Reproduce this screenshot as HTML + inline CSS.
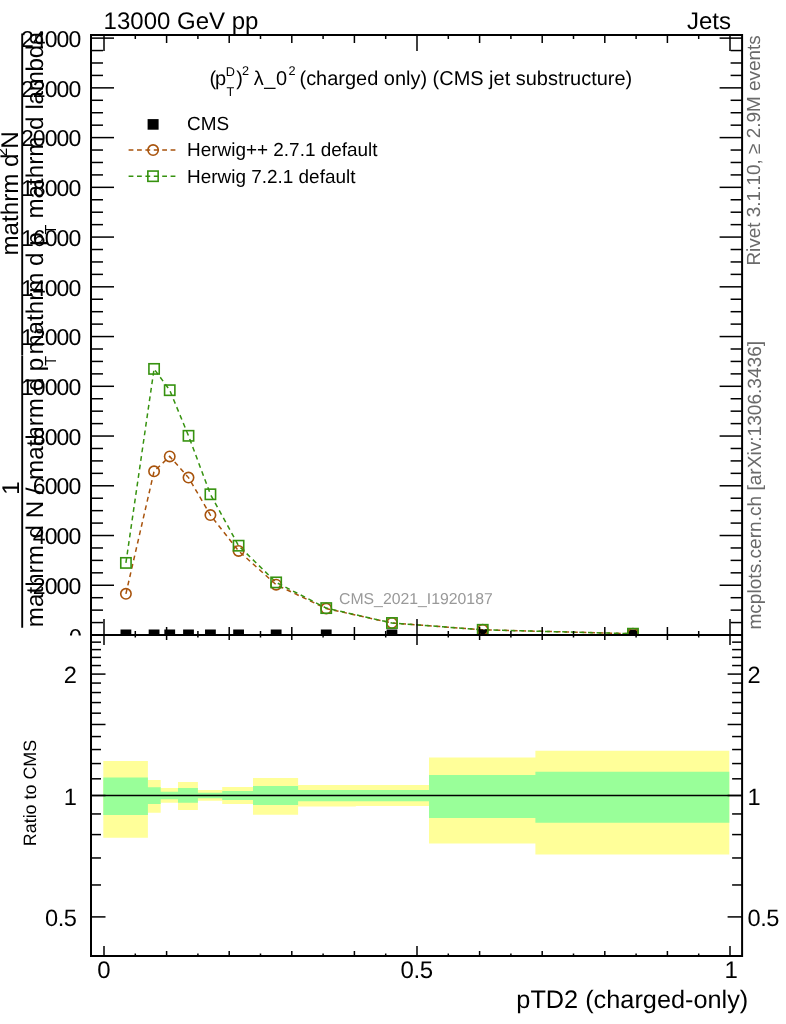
<!DOCTYPE html>
<html lang="en">
<head>
<meta charset="utf-8">
<title>pTD2 (charged-only) - CMS jet substructure</title>
<style>
html,body{margin:0;padding:0;background:#fff;}
body{width:786px;height:1024px;overflow:hidden;font-family:"Liberation Sans", sans-serif;}
svg{display:block;will-change:transform;}
</style>
</head>
<body>
<svg width="786" height="1024" viewBox="0 0 786 1024" font-family='"Liberation Sans", sans-serif' text-rendering="geometricPrecision">
<polygon points="103.30,761.00 147.90,761.00 147.90,780.00 160.70,780.00 160.70,788.00 178.00,788.00 178.00,782.10 197.90,782.10 197.90,790.00 222.20,790.00 222.20,787.10 253.00,787.10 253.00,778.00 298.10,778.00 298.10,785.10 355.80,785.10 355.80,785.10 429.00,785.10 429.00,757.50 535.40,757.50 535.40,750.70 729.30,750.70 729.30,854.60 535.40,854.60 535.40,843.50 429.00,843.50 429.00,806.00 355.80,806.00 355.80,806.40 298.10,806.40 298.10,814.70 253.00,814.70 253.00,803.90 222.20,803.90 222.20,800.70 197.90,800.70 197.90,810.10 178.00,810.10 178.00,802.80 160.70,802.80 160.70,812.70 147.90,812.70 147.90,837.70 103.30,837.70" fill="#ffff99"/>
<polygon points="103.30,777.40 147.90,777.40 147.90,787.20 160.70,787.20 160.70,791.70 178.00,791.70 178.00,788.10 197.90,788.10 197.90,792.70 222.20,792.70 222.20,791.10 253.00,791.10 253.00,786.00 298.10,786.00 298.10,790.10 355.80,790.10 355.80,790.10 429.00,790.10 429.00,774.90 535.40,774.90 535.40,771.70 729.30,771.70 729.30,822.70 535.40,822.70 535.40,818.00 429.00,818.00 429.00,801.20 355.80,801.20 355.80,801.20 298.10,801.20 298.10,804.90 253.00,804.90 253.00,799.90 222.20,799.90 222.20,798.20 197.90,798.20 197.90,802.80 178.00,802.80 178.00,799.20 160.70,799.20 160.70,803.90 147.90,803.90 147.90,814.90 103.30,814.90" fill="#99ff99"/>
<line x1="91.00" y1="795.40" x2="742.10" y2="795.40" stroke="#000" stroke-width="1.5" />
<clipPath id="cu"><rect x="0" y="0" width="786" height="635"/></clipPath>
<g clip-path="url(#cu)">
<polyline points="125.91,593.80 154.08,471.30 169.73,456.40 188.51,477.60 210.42,515.10 238.59,550.90 276.15,584.70 326.23,608.60 391.96,623.00 482.73,629.80 632.97,633.70" fill="none" stroke="#a8530c" stroke-width="1.5" stroke-dasharray="4.8 3.8"/>
<polyline points="125.91,562.90 154.08,368.90 169.73,390.20 188.51,435.80 210.42,494.30 238.59,545.70 276.15,582.40 326.23,608.10 391.96,623.00 482.73,629.80 632.97,633.70" fill="none" stroke="#36920f" stroke-width="1.5" stroke-dasharray="4.8 3.8"/>
<rect x="120.51" y="629.50" width="10.8" height="10.8" fill="#000"/>
<rect x="148.68" y="629.50" width="10.8" height="10.8" fill="#000"/>
<rect x="164.33" y="629.50" width="10.8" height="10.8" fill="#000"/>
<rect x="183.11" y="629.50" width="10.8" height="10.8" fill="#000"/>
<rect x="205.02" y="629.50" width="10.8" height="10.8" fill="#000"/>
<rect x="233.19" y="629.50" width="10.8" height="10.8" fill="#000"/>
<rect x="270.75" y="629.50" width="10.8" height="10.8" fill="#000"/>
<rect x="320.83" y="629.50" width="10.8" height="10.8" fill="#000"/>
<rect x="386.56" y="629.50" width="10.8" height="10.8" fill="#000"/>
<rect x="477.33" y="629.50" width="10.8" height="10.8" fill="#000"/>
<rect x="627.57" y="629.50" width="10.8" height="10.8" fill="#000"/>
<circle cx="125.91" cy="593.80" r="5.2" fill="none" stroke="#a8530c" stroke-width="1.6"/>
<circle cx="154.08" cy="471.30" r="5.2" fill="none" stroke="#a8530c" stroke-width="1.6"/>
<circle cx="169.73" cy="456.40" r="5.2" fill="none" stroke="#a8530c" stroke-width="1.6"/>
<circle cx="188.51" cy="477.60" r="5.2" fill="none" stroke="#a8530c" stroke-width="1.6"/>
<circle cx="210.42" cy="515.10" r="5.2" fill="none" stroke="#a8530c" stroke-width="1.6"/>
<circle cx="238.59" cy="550.90" r="5.2" fill="none" stroke="#a8530c" stroke-width="1.6"/>
<circle cx="276.15" cy="584.70" r="5.2" fill="none" stroke="#a8530c" stroke-width="1.6"/>
<circle cx="326.23" cy="608.60" r="5.2" fill="none" stroke="#a8530c" stroke-width="1.6"/>
<circle cx="391.96" cy="623.00" r="5.2" fill="none" stroke="#a8530c" stroke-width="1.6"/>
<circle cx="482.73" cy="629.80" r="5.2" fill="none" stroke="#a8530c" stroke-width="1.6"/>
<circle cx="632.97" cy="633.70" r="5.2" fill="none" stroke="#a8530c" stroke-width="1.6"/>
<rect x="120.76" y="557.75" width="10.3" height="10.3" fill="none" stroke="#36920f" stroke-width="1.6"/>
<rect x="148.93" y="363.75" width="10.3" height="10.3" fill="none" stroke="#36920f" stroke-width="1.6"/>
<rect x="164.58" y="385.05" width="10.3" height="10.3" fill="none" stroke="#36920f" stroke-width="1.6"/>
<rect x="183.36" y="430.65" width="10.3" height="10.3" fill="none" stroke="#36920f" stroke-width="1.6"/>
<rect x="205.27" y="489.15" width="10.3" height="10.3" fill="none" stroke="#36920f" stroke-width="1.6"/>
<rect x="233.44" y="540.55" width="10.3" height="10.3" fill="none" stroke="#36920f" stroke-width="1.6"/>
<rect x="271.00" y="577.25" width="10.3" height="10.3" fill="none" stroke="#36920f" stroke-width="1.6"/>
<rect x="321.08" y="602.95" width="10.3" height="10.3" fill="none" stroke="#36920f" stroke-width="1.6"/>
<rect x="386.81" y="617.85" width="10.3" height="10.3" fill="none" stroke="#36920f" stroke-width="1.6"/>
<rect x="477.58" y="624.65" width="10.3" height="10.3" fill="none" stroke="#36920f" stroke-width="1.6"/>
<rect x="627.82" y="628.55" width="10.3" height="10.3" fill="none" stroke="#36920f" stroke-width="1.6"/>
</g>
<rect x="91.0" y="35.0" width="651.1" height="921.0" fill="none" stroke="#000" stroke-width="2.0"/>
<line x1="91.00" y1="635.00" x2="742.10" y2="635.00" stroke="#000" stroke-width="2.0" />
<line x1="104.00" y1="35.00" x2="104.00" y2="51.00" stroke="#000" stroke-width="1.5" />
<line x1="104.00" y1="619.00" x2="104.00" y2="645.00" stroke="#000" stroke-width="1.5" />
<line x1="104.00" y1="956.00" x2="104.00" y2="946.00" stroke="#000" stroke-width="1.5" />
<line x1="135.30" y1="35.00" x2="135.30" y2="39.00" stroke="#000" stroke-width="1.5" />
<line x1="135.30" y1="631.00" x2="135.30" y2="637.50" stroke="#000" stroke-width="1.5" />
<line x1="135.30" y1="956.00" x2="135.30" y2="953.50" stroke="#000" stroke-width="1.5" />
<line x1="166.60" y1="35.00" x2="166.60" y2="43.00" stroke="#000" stroke-width="1.5" />
<line x1="166.60" y1="627.00" x2="166.60" y2="640.00" stroke="#000" stroke-width="1.5" />
<line x1="166.60" y1="956.00" x2="166.60" y2="951.00" stroke="#000" stroke-width="1.5" />
<line x1="197.90" y1="35.00" x2="197.90" y2="39.00" stroke="#000" stroke-width="1.5" />
<line x1="197.90" y1="631.00" x2="197.90" y2="637.50" stroke="#000" stroke-width="1.5" />
<line x1="197.90" y1="956.00" x2="197.90" y2="953.50" stroke="#000" stroke-width="1.5" />
<line x1="229.20" y1="35.00" x2="229.20" y2="43.00" stroke="#000" stroke-width="1.5" />
<line x1="229.20" y1="627.00" x2="229.20" y2="640.00" stroke="#000" stroke-width="1.5" />
<line x1="229.20" y1="956.00" x2="229.20" y2="951.00" stroke="#000" stroke-width="1.5" />
<line x1="260.50" y1="35.00" x2="260.50" y2="39.00" stroke="#000" stroke-width="1.5" />
<line x1="260.50" y1="631.00" x2="260.50" y2="637.50" stroke="#000" stroke-width="1.5" />
<line x1="260.50" y1="956.00" x2="260.50" y2="953.50" stroke="#000" stroke-width="1.5" />
<line x1="291.80" y1="35.00" x2="291.80" y2="43.00" stroke="#000" stroke-width="1.5" />
<line x1="291.80" y1="627.00" x2="291.80" y2="640.00" stroke="#000" stroke-width="1.5" />
<line x1="291.80" y1="956.00" x2="291.80" y2="951.00" stroke="#000" stroke-width="1.5" />
<line x1="323.10" y1="35.00" x2="323.10" y2="39.00" stroke="#000" stroke-width="1.5" />
<line x1="323.10" y1="631.00" x2="323.10" y2="637.50" stroke="#000" stroke-width="1.5" />
<line x1="323.10" y1="956.00" x2="323.10" y2="953.50" stroke="#000" stroke-width="1.5" />
<line x1="354.40" y1="35.00" x2="354.40" y2="43.00" stroke="#000" stroke-width="1.5" />
<line x1="354.40" y1="627.00" x2="354.40" y2="640.00" stroke="#000" stroke-width="1.5" />
<line x1="354.40" y1="956.00" x2="354.40" y2="951.00" stroke="#000" stroke-width="1.5" />
<line x1="385.70" y1="35.00" x2="385.70" y2="39.00" stroke="#000" stroke-width="1.5" />
<line x1="385.70" y1="631.00" x2="385.70" y2="637.50" stroke="#000" stroke-width="1.5" />
<line x1="385.70" y1="956.00" x2="385.70" y2="953.50" stroke="#000" stroke-width="1.5" />
<line x1="417.00" y1="35.00" x2="417.00" y2="51.00" stroke="#000" stroke-width="1.5" />
<line x1="417.00" y1="619.00" x2="417.00" y2="645.00" stroke="#000" stroke-width="1.5" />
<line x1="417.00" y1="956.00" x2="417.00" y2="946.00" stroke="#000" stroke-width="1.5" />
<line x1="448.30" y1="35.00" x2="448.30" y2="39.00" stroke="#000" stroke-width="1.5" />
<line x1="448.30" y1="631.00" x2="448.30" y2="637.50" stroke="#000" stroke-width="1.5" />
<line x1="448.30" y1="956.00" x2="448.30" y2="953.50" stroke="#000" stroke-width="1.5" />
<line x1="479.60" y1="35.00" x2="479.60" y2="43.00" stroke="#000" stroke-width="1.5" />
<line x1="479.60" y1="627.00" x2="479.60" y2="640.00" stroke="#000" stroke-width="1.5" />
<line x1="479.60" y1="956.00" x2="479.60" y2="951.00" stroke="#000" stroke-width="1.5" />
<line x1="510.90" y1="35.00" x2="510.90" y2="39.00" stroke="#000" stroke-width="1.5" />
<line x1="510.90" y1="631.00" x2="510.90" y2="637.50" stroke="#000" stroke-width="1.5" />
<line x1="510.90" y1="956.00" x2="510.90" y2="953.50" stroke="#000" stroke-width="1.5" />
<line x1="542.20" y1="35.00" x2="542.20" y2="43.00" stroke="#000" stroke-width="1.5" />
<line x1="542.20" y1="627.00" x2="542.20" y2="640.00" stroke="#000" stroke-width="1.5" />
<line x1="542.20" y1="956.00" x2="542.20" y2="951.00" stroke="#000" stroke-width="1.5" />
<line x1="573.50" y1="35.00" x2="573.50" y2="39.00" stroke="#000" stroke-width="1.5" />
<line x1="573.50" y1="631.00" x2="573.50" y2="637.50" stroke="#000" stroke-width="1.5" />
<line x1="573.50" y1="956.00" x2="573.50" y2="953.50" stroke="#000" stroke-width="1.5" />
<line x1="604.80" y1="35.00" x2="604.80" y2="43.00" stroke="#000" stroke-width="1.5" />
<line x1="604.80" y1="627.00" x2="604.80" y2="640.00" stroke="#000" stroke-width="1.5" />
<line x1="604.80" y1="956.00" x2="604.80" y2="951.00" stroke="#000" stroke-width="1.5" />
<line x1="636.10" y1="35.00" x2="636.10" y2="39.00" stroke="#000" stroke-width="1.5" />
<line x1="636.10" y1="631.00" x2="636.10" y2="637.50" stroke="#000" stroke-width="1.5" />
<line x1="636.10" y1="956.00" x2="636.10" y2="953.50" stroke="#000" stroke-width="1.5" />
<line x1="667.40" y1="35.00" x2="667.40" y2="43.00" stroke="#000" stroke-width="1.5" />
<line x1="667.40" y1="627.00" x2="667.40" y2="640.00" stroke="#000" stroke-width="1.5" />
<line x1="667.40" y1="956.00" x2="667.40" y2="951.00" stroke="#000" stroke-width="1.5" />
<line x1="698.70" y1="35.00" x2="698.70" y2="39.00" stroke="#000" stroke-width="1.5" />
<line x1="698.70" y1="631.00" x2="698.70" y2="637.50" stroke="#000" stroke-width="1.5" />
<line x1="698.70" y1="956.00" x2="698.70" y2="953.50" stroke="#000" stroke-width="1.5" />
<line x1="730.00" y1="35.00" x2="730.00" y2="51.00" stroke="#000" stroke-width="1.5" />
<line x1="730.00" y1="619.00" x2="730.00" y2="645.00" stroke="#000" stroke-width="1.5" />
<line x1="730.00" y1="956.00" x2="730.00" y2="946.00" stroke="#000" stroke-width="1.5" />
<line x1="91.00" y1="635.00" x2="114.00" y2="635.00" stroke="#000" stroke-width="1.5" />
<line x1="742.10" y1="635.00" x2="719.60" y2="635.00" stroke="#000" stroke-width="1.5" />
<line x1="91.00" y1="622.57" x2="103.00" y2="622.57" stroke="#000" stroke-width="1.5" />
<line x1="742.10" y1="622.57" x2="730.60" y2="622.57" stroke="#000" stroke-width="1.5" />
<line x1="91.00" y1="610.13" x2="103.00" y2="610.13" stroke="#000" stroke-width="1.5" />
<line x1="742.10" y1="610.13" x2="730.60" y2="610.13" stroke="#000" stroke-width="1.5" />
<line x1="91.00" y1="597.70" x2="103.00" y2="597.70" stroke="#000" stroke-width="1.5" />
<line x1="742.10" y1="597.70" x2="730.60" y2="597.70" stroke="#000" stroke-width="1.5" />
<line x1="91.00" y1="585.26" x2="114.00" y2="585.26" stroke="#000" stroke-width="1.5" />
<line x1="742.10" y1="585.26" x2="719.60" y2="585.26" stroke="#000" stroke-width="1.5" />
<line x1="91.00" y1="572.83" x2="103.00" y2="572.83" stroke="#000" stroke-width="1.5" />
<line x1="742.10" y1="572.83" x2="730.60" y2="572.83" stroke="#000" stroke-width="1.5" />
<line x1="91.00" y1="560.39" x2="103.00" y2="560.39" stroke="#000" stroke-width="1.5" />
<line x1="742.10" y1="560.39" x2="730.60" y2="560.39" stroke="#000" stroke-width="1.5" />
<line x1="91.00" y1="547.96" x2="103.00" y2="547.96" stroke="#000" stroke-width="1.5" />
<line x1="742.10" y1="547.96" x2="730.60" y2="547.96" stroke="#000" stroke-width="1.5" />
<line x1="91.00" y1="535.52" x2="114.00" y2="535.52" stroke="#000" stroke-width="1.5" />
<line x1="742.10" y1="535.52" x2="719.60" y2="535.52" stroke="#000" stroke-width="1.5" />
<line x1="91.00" y1="523.09" x2="103.00" y2="523.09" stroke="#000" stroke-width="1.5" />
<line x1="742.10" y1="523.09" x2="730.60" y2="523.09" stroke="#000" stroke-width="1.5" />
<line x1="91.00" y1="510.65" x2="103.00" y2="510.65" stroke="#000" stroke-width="1.5" />
<line x1="742.10" y1="510.65" x2="730.60" y2="510.65" stroke="#000" stroke-width="1.5" />
<line x1="91.00" y1="498.22" x2="103.00" y2="498.22" stroke="#000" stroke-width="1.5" />
<line x1="742.10" y1="498.22" x2="730.60" y2="498.22" stroke="#000" stroke-width="1.5" />
<line x1="91.00" y1="485.78" x2="114.00" y2="485.78" stroke="#000" stroke-width="1.5" />
<line x1="742.10" y1="485.78" x2="719.60" y2="485.78" stroke="#000" stroke-width="1.5" />
<line x1="91.00" y1="473.35" x2="103.00" y2="473.35" stroke="#000" stroke-width="1.5" />
<line x1="742.10" y1="473.35" x2="730.60" y2="473.35" stroke="#000" stroke-width="1.5" />
<line x1="91.00" y1="460.91" x2="103.00" y2="460.91" stroke="#000" stroke-width="1.5" />
<line x1="742.10" y1="460.91" x2="730.60" y2="460.91" stroke="#000" stroke-width="1.5" />
<line x1="91.00" y1="448.48" x2="103.00" y2="448.48" stroke="#000" stroke-width="1.5" />
<line x1="742.10" y1="448.48" x2="730.60" y2="448.48" stroke="#000" stroke-width="1.5" />
<line x1="91.00" y1="436.04" x2="114.00" y2="436.04" stroke="#000" stroke-width="1.5" />
<line x1="742.10" y1="436.04" x2="719.60" y2="436.04" stroke="#000" stroke-width="1.5" />
<line x1="91.00" y1="423.61" x2="103.00" y2="423.61" stroke="#000" stroke-width="1.5" />
<line x1="742.10" y1="423.61" x2="730.60" y2="423.61" stroke="#000" stroke-width="1.5" />
<line x1="91.00" y1="411.17" x2="103.00" y2="411.17" stroke="#000" stroke-width="1.5" />
<line x1="742.10" y1="411.17" x2="730.60" y2="411.17" stroke="#000" stroke-width="1.5" />
<line x1="91.00" y1="398.74" x2="103.00" y2="398.74" stroke="#000" stroke-width="1.5" />
<line x1="742.10" y1="398.74" x2="730.60" y2="398.74" stroke="#000" stroke-width="1.5" />
<line x1="91.00" y1="386.30" x2="114.00" y2="386.30" stroke="#000" stroke-width="1.5" />
<line x1="742.10" y1="386.30" x2="719.60" y2="386.30" stroke="#000" stroke-width="1.5" />
<line x1="91.00" y1="373.87" x2="103.00" y2="373.87" stroke="#000" stroke-width="1.5" />
<line x1="742.10" y1="373.87" x2="730.60" y2="373.87" stroke="#000" stroke-width="1.5" />
<line x1="91.00" y1="361.43" x2="103.00" y2="361.43" stroke="#000" stroke-width="1.5" />
<line x1="742.10" y1="361.43" x2="730.60" y2="361.43" stroke="#000" stroke-width="1.5" />
<line x1="91.00" y1="349.00" x2="103.00" y2="349.00" stroke="#000" stroke-width="1.5" />
<line x1="742.10" y1="349.00" x2="730.60" y2="349.00" stroke="#000" stroke-width="1.5" />
<line x1="91.00" y1="336.56" x2="114.00" y2="336.56" stroke="#000" stroke-width="1.5" />
<line x1="742.10" y1="336.56" x2="719.60" y2="336.56" stroke="#000" stroke-width="1.5" />
<line x1="91.00" y1="324.12" x2="103.00" y2="324.12" stroke="#000" stroke-width="1.5" />
<line x1="742.10" y1="324.12" x2="730.60" y2="324.12" stroke="#000" stroke-width="1.5" />
<line x1="91.00" y1="311.69" x2="103.00" y2="311.69" stroke="#000" stroke-width="1.5" />
<line x1="742.10" y1="311.69" x2="730.60" y2="311.69" stroke="#000" stroke-width="1.5" />
<line x1="91.00" y1="299.25" x2="103.00" y2="299.25" stroke="#000" stroke-width="1.5" />
<line x1="742.10" y1="299.25" x2="730.60" y2="299.25" stroke="#000" stroke-width="1.5" />
<line x1="91.00" y1="286.82" x2="114.00" y2="286.82" stroke="#000" stroke-width="1.5" />
<line x1="742.10" y1="286.82" x2="719.60" y2="286.82" stroke="#000" stroke-width="1.5" />
<line x1="91.00" y1="274.38" x2="103.00" y2="274.38" stroke="#000" stroke-width="1.5" />
<line x1="742.10" y1="274.38" x2="730.60" y2="274.38" stroke="#000" stroke-width="1.5" />
<line x1="91.00" y1="261.95" x2="103.00" y2="261.95" stroke="#000" stroke-width="1.5" />
<line x1="742.10" y1="261.95" x2="730.60" y2="261.95" stroke="#000" stroke-width="1.5" />
<line x1="91.00" y1="249.51" x2="103.00" y2="249.51" stroke="#000" stroke-width="1.5" />
<line x1="742.10" y1="249.51" x2="730.60" y2="249.51" stroke="#000" stroke-width="1.5" />
<line x1="91.00" y1="237.08" x2="114.00" y2="237.08" stroke="#000" stroke-width="1.5" />
<line x1="742.10" y1="237.08" x2="719.60" y2="237.08" stroke="#000" stroke-width="1.5" />
<line x1="91.00" y1="224.64" x2="103.00" y2="224.64" stroke="#000" stroke-width="1.5" />
<line x1="742.10" y1="224.64" x2="730.60" y2="224.64" stroke="#000" stroke-width="1.5" />
<line x1="91.00" y1="212.21" x2="103.00" y2="212.21" stroke="#000" stroke-width="1.5" />
<line x1="742.10" y1="212.21" x2="730.60" y2="212.21" stroke="#000" stroke-width="1.5" />
<line x1="91.00" y1="199.77" x2="103.00" y2="199.77" stroke="#000" stroke-width="1.5" />
<line x1="742.10" y1="199.77" x2="730.60" y2="199.77" stroke="#000" stroke-width="1.5" />
<line x1="91.00" y1="187.34" x2="114.00" y2="187.34" stroke="#000" stroke-width="1.5" />
<line x1="742.10" y1="187.34" x2="719.60" y2="187.34" stroke="#000" stroke-width="1.5" />
<line x1="91.00" y1="174.91" x2="103.00" y2="174.91" stroke="#000" stroke-width="1.5" />
<line x1="742.10" y1="174.91" x2="730.60" y2="174.91" stroke="#000" stroke-width="1.5" />
<line x1="91.00" y1="162.47" x2="103.00" y2="162.47" stroke="#000" stroke-width="1.5" />
<line x1="742.10" y1="162.47" x2="730.60" y2="162.47" stroke="#000" stroke-width="1.5" />
<line x1="91.00" y1="150.04" x2="103.00" y2="150.04" stroke="#000" stroke-width="1.5" />
<line x1="742.10" y1="150.04" x2="730.60" y2="150.04" stroke="#000" stroke-width="1.5" />
<line x1="91.00" y1="137.60" x2="114.00" y2="137.60" stroke="#000" stroke-width="1.5" />
<line x1="742.10" y1="137.60" x2="719.60" y2="137.60" stroke="#000" stroke-width="1.5" />
<line x1="91.00" y1="125.17" x2="103.00" y2="125.17" stroke="#000" stroke-width="1.5" />
<line x1="742.10" y1="125.17" x2="730.60" y2="125.17" stroke="#000" stroke-width="1.5" />
<line x1="91.00" y1="112.73" x2="103.00" y2="112.73" stroke="#000" stroke-width="1.5" />
<line x1="742.10" y1="112.73" x2="730.60" y2="112.73" stroke="#000" stroke-width="1.5" />
<line x1="91.00" y1="100.29" x2="103.00" y2="100.29" stroke="#000" stroke-width="1.5" />
<line x1="742.10" y1="100.29" x2="730.60" y2="100.29" stroke="#000" stroke-width="1.5" />
<line x1="91.00" y1="87.86" x2="114.00" y2="87.86" stroke="#000" stroke-width="1.5" />
<line x1="742.10" y1="87.86" x2="719.60" y2="87.86" stroke="#000" stroke-width="1.5" />
<line x1="91.00" y1="75.42" x2="103.00" y2="75.42" stroke="#000" stroke-width="1.5" />
<line x1="742.10" y1="75.42" x2="730.60" y2="75.42" stroke="#000" stroke-width="1.5" />
<line x1="91.00" y1="62.99" x2="103.00" y2="62.99" stroke="#000" stroke-width="1.5" />
<line x1="742.10" y1="62.99" x2="730.60" y2="62.99" stroke="#000" stroke-width="1.5" />
<line x1="91.00" y1="50.55" x2="103.00" y2="50.55" stroke="#000" stroke-width="1.5" />
<line x1="742.10" y1="50.55" x2="730.60" y2="50.55" stroke="#000" stroke-width="1.5" />
<line x1="91.00" y1="38.12" x2="114.00" y2="38.12" stroke="#000" stroke-width="1.5" />
<line x1="742.10" y1="38.12" x2="719.60" y2="38.12" stroke="#000" stroke-width="1.5" />
<line x1="91.00" y1="916.91" x2="105.50" y2="916.91" stroke="#000" stroke-width="1.5" />
<line x1="742.10" y1="916.91" x2="727.60" y2="916.91" stroke="#000" stroke-width="1.5" />
<line x1="91.00" y1="884.97" x2="101.00" y2="884.97" stroke="#000" stroke-width="1.5" />
<line x1="742.10" y1="884.97" x2="732.10" y2="884.97" stroke="#000" stroke-width="1.5" />
<line x1="91.00" y1="857.97" x2="101.00" y2="857.97" stroke="#000" stroke-width="1.5" />
<line x1="742.10" y1="857.97" x2="732.10" y2="857.97" stroke="#000" stroke-width="1.5" />
<line x1="91.00" y1="834.59" x2="101.00" y2="834.59" stroke="#000" stroke-width="1.5" />
<line x1="742.10" y1="834.59" x2="732.10" y2="834.59" stroke="#000" stroke-width="1.5" />
<line x1="91.00" y1="813.95" x2="101.00" y2="813.95" stroke="#000" stroke-width="1.5" />
<line x1="742.10" y1="813.95" x2="732.10" y2="813.95" stroke="#000" stroke-width="1.5" />
<line x1="91.00" y1="795.50" x2="105.50" y2="795.50" stroke="#000" stroke-width="1.5" />
<line x1="742.10" y1="795.50" x2="727.60" y2="795.50" stroke="#000" stroke-width="1.5" />
<line x1="91.00" y1="778.81" x2="101.00" y2="778.81" stroke="#000" stroke-width="1.5" />
<line x1="742.10" y1="778.81" x2="732.10" y2="778.81" stroke="#000" stroke-width="1.5" />
<line x1="91.00" y1="763.56" x2="101.00" y2="763.56" stroke="#000" stroke-width="1.5" />
<line x1="742.10" y1="763.56" x2="732.10" y2="763.56" stroke="#000" stroke-width="1.5" />
<line x1="91.00" y1="749.54" x2="101.00" y2="749.54" stroke="#000" stroke-width="1.5" />
<line x1="742.10" y1="749.54" x2="732.10" y2="749.54" stroke="#000" stroke-width="1.5" />
<line x1="91.00" y1="736.56" x2="101.00" y2="736.56" stroke="#000" stroke-width="1.5" />
<line x1="742.10" y1="736.56" x2="732.10" y2="736.56" stroke="#000" stroke-width="1.5" />
<line x1="91.00" y1="724.48" x2="105.50" y2="724.48" stroke="#000" stroke-width="1.5" />
<line x1="742.10" y1="724.48" x2="727.60" y2="724.48" stroke="#000" stroke-width="1.5" />
<line x1="91.00" y1="713.18" x2="101.00" y2="713.18" stroke="#000" stroke-width="1.5" />
<line x1="742.10" y1="713.18" x2="732.10" y2="713.18" stroke="#000" stroke-width="1.5" />
<line x1="91.00" y1="702.56" x2="101.00" y2="702.56" stroke="#000" stroke-width="1.5" />
<line x1="742.10" y1="702.56" x2="732.10" y2="702.56" stroke="#000" stroke-width="1.5" />
<line x1="91.00" y1="692.54" x2="101.00" y2="692.54" stroke="#000" stroke-width="1.5" />
<line x1="742.10" y1="692.54" x2="732.10" y2="692.54" stroke="#000" stroke-width="1.5" />
<line x1="91.00" y1="683.07" x2="101.00" y2="683.07" stroke="#000" stroke-width="1.5" />
<line x1="742.10" y1="683.07" x2="732.10" y2="683.07" stroke="#000" stroke-width="1.5" />
<line x1="91.00" y1="674.09" x2="105.50" y2="674.09" stroke="#000" stroke-width="1.5" />
<line x1="742.10" y1="674.09" x2="727.60" y2="674.09" stroke="#000" stroke-width="1.5" />
<line x1="91.00" y1="665.54" x2="101.00" y2="665.54" stroke="#000" stroke-width="1.5" />
<line x1="742.10" y1="665.54" x2="732.10" y2="665.54" stroke="#000" stroke-width="1.5" />
<line x1="91.00" y1="657.40" x2="101.00" y2="657.40" stroke="#000" stroke-width="1.5" />
<line x1="742.10" y1="657.40" x2="732.10" y2="657.40" stroke="#000" stroke-width="1.5" />
<line x1="91.00" y1="649.61" x2="101.00" y2="649.61" stroke="#000" stroke-width="1.5" />
<line x1="742.10" y1="649.61" x2="732.10" y2="649.61" stroke="#000" stroke-width="1.5" />
<line x1="91.00" y1="642.15" x2="101.00" y2="642.15" stroke="#000" stroke-width="1.5" />
<line x1="742.10" y1="642.15" x2="732.10" y2="642.15" stroke="#000" stroke-width="1.5" />
<clipPath id="cz"><rect x="0" y="0" width="786" height="635.6"/></clipPath>
<text x="81.90" y="644.60" font-size="23.0" text-anchor="end" fill="#000" clip-path="url(#cz)">0</text>
<text x="80.40" y="593.96" font-size="23.0" text-anchor="end" fill="#000" letter-spacing="-0.9">2000</text>
<text x="80.40" y="544.22" font-size="23.0" text-anchor="end" fill="#000" letter-spacing="-0.9">4000</text>
<text x="80.40" y="494.48" font-size="23.0" text-anchor="end" fill="#000" letter-spacing="-0.9">6000</text>
<text x="80.40" y="444.74" font-size="23.0" text-anchor="end" fill="#000" letter-spacing="-0.9">8000</text>
<text x="80.40" y="395.00" font-size="23.0" text-anchor="end" fill="#000" letter-spacing="-0.9">10000</text>
<text x="80.40" y="345.26" font-size="23.0" text-anchor="end" fill="#000" letter-spacing="-0.9">12000</text>
<text x="80.40" y="295.52" font-size="23.0" text-anchor="end" fill="#000" letter-spacing="-0.9">14000</text>
<text x="80.40" y="245.78" font-size="23.0" text-anchor="end" fill="#000" letter-spacing="-0.9">16000</text>
<text x="80.40" y="196.04" font-size="23.0" text-anchor="end" fill="#000" letter-spacing="-0.9">18000</text>
<text x="80.40" y="146.30" font-size="23.0" text-anchor="end" fill="#000" letter-spacing="-0.9">20000</text>
<text x="80.40" y="96.56" font-size="23.0" text-anchor="end" fill="#000" letter-spacing="-0.9">22000</text>
<text x="80.40" y="46.82" font-size="23.0" text-anchor="end" fill="#000" letter-spacing="-0.9">24000</text>
<text x="76.40" y="683.49" font-size="23.6" text-anchor="end" fill="#000" letter-spacing="-0.5">2</text>
<text x="747.60" y="683.49" font-size="23.6" text-anchor="start" fill="#000" letter-spacing="-0.5">2</text>
<text x="76.40" y="804.90" font-size="23.6" text-anchor="end" fill="#000" letter-spacing="-0.5">1</text>
<text x="747.60" y="804.90" font-size="23.6" text-anchor="start" fill="#000" letter-spacing="-0.5">1</text>
<text x="76.40" y="926.31" font-size="23.6" text-anchor="end" fill="#000" letter-spacing="-0.5">0.5</text>
<text x="747.60" y="926.31" font-size="23.6" text-anchor="start" fill="#000" letter-spacing="-0.5">0.5</text>
<text x="103.70" y="978.40" font-size="24.0" text-anchor="middle" fill="#000" letter-spacing="-0.3">0</text>
<text x="416.70" y="978.40" font-size="24.0" text-anchor="middle" fill="#000" letter-spacing="-0.3">0.5</text>
<text x="731.10" y="978.40" font-size="24.0" text-anchor="middle" fill="#000" letter-spacing="-0.3">1</text>
<text x="103.60" y="28.80" font-size="24" text-anchor="start" fill="#000" >13000 GeV pp</text>
<text x="731.00" y="28.80" font-size="24" text-anchor="end" fill="#000" >Jets</text>
<text x="748.30" y="1008.30" font-size="25.3" text-anchor="end" fill="#000" >pTD2 (charged-only)</text>
<text x="209.50" y="85.20" font-size="19.97" text-anchor="start" fill="#000" >(</text>
<text x="215.00" y="85.20" font-size="19.97" text-anchor="start" fill="#000" >p</text>
<text x="225.70" y="75.80" font-size="12.7" text-anchor="start" fill="#000" >D</text>
<text x="226.40" y="95.80" font-size="12.7" text-anchor="start" fill="#000" >T</text>
<text x="236.20" y="85.20" font-size="19.97" text-anchor="start" fill="#000" >)</text>
<text x="241.90" y="75.20" font-size="12.7" text-anchor="start" fill="#000" >2</text>
<text x="253.80" y="85.20" font-size="19.97" text-anchor="start" fill="#000" >λ</text>
<text x="264.30" y="85.20" font-size="19.97" text-anchor="start" fill="#000" >_</text>
<text x="275.90" y="85.20" font-size="19.97" text-anchor="start" fill="#000" >0</text>
<text x="288.60" y="75.20" font-size="12.7" text-anchor="start" fill="#000" >2</text>
<text x="299.50" y="85.20" font-size="19.97" text-anchor="start" fill="#000" >(charged only) (CMS jet substructure)</text>
<rect x="147.6" y="119.1" width="11.0" height="10.6" fill="#000"/>
<text x="187.00" y="130.30" font-size="18.95" text-anchor="start" fill="#000" >CMS</text>
<line x1="128.6" y1="150.1" x2="176.4" y2="150.1" stroke="#a8530c" stroke-width="1.5" stroke-dasharray="4.8 3.6"/>
<circle cx="153.1" cy="150.1" r="5.2" fill="none" stroke="#a8530c" stroke-width="1.6"/>
<text x="187.00" y="155.90" font-size="18.95" text-anchor="start" fill="#000" >Herwig++ 2.7.1 default</text>
<line x1="128.6" y1="176.2" x2="176.4" y2="176.2" stroke="#36920f" stroke-width="1.5" stroke-dasharray="4.8 3.6"/>
<rect x="147.85" y="171.05" width="10.3" height="10.3" fill="none" stroke="#36920f" stroke-width="1.6"/>
<text x="187.00" y="182.50" font-size="18.95" text-anchor="start" fill="#000" >Herwig 7.2.1 default</text>
<text x="339.00" y="604.20" font-size="15.8" text-anchor="start" fill="#999999" >CMS_2021_I1920187</text>
<text transform="translate(36.4 846.2) rotate(-90)" font-size="17.9" fill="#000">Ratio to CMS</text>
<text transform="translate(760.3 265.6) rotate(-90)" font-size="18.94" fill="#6a6a6a">Rivet 3.1.10, ≥ 2.9M events</text>
<text transform="translate(760.6 629.6) rotate(-90)" font-size="19.1" fill="#6a6a6a">mcplots.cern.ch [arXiv:1306.3436]</text>
<g transform="rotate(-90)" font-size="24.2" fill="#000">
<text x="-627.2" y="43.0">mathrm d N /</text>
<text x="-480.0" y="43.0">mathrm d p</text>
<text x="-365.8" y="55.8" font-size="16">T</text>
<text x="-488.0" y="18.8" text-anchor="middle">1</text>
<line x1="-627.8" y1="22.2" x2="-355.6" y2="22.2" stroke="#000" stroke-width="1.9"/>
<text x="-354.6" y="43.0">mathrm d p</text>
<text x="-234.4" y="55.8" font-size="16">T</text>
<text x="-218.6" y="43.0">mathrm d</text>
<text x="-109.6" y="43.0" letter-spacing="-0.3">lambda</text>
<text x="-255.6" y="18.1">mathrm d</text>
<text x="-156.6" y="6.9" font-size="16">2</text>
<text x="-148.8" y="18.1">N</text>
<line x1="-355.2" y1="22.2" x2="-33.5" y2="22.2" stroke="#000" stroke-width="1.9"/>
</g>
</svg>
</body>
</html>
